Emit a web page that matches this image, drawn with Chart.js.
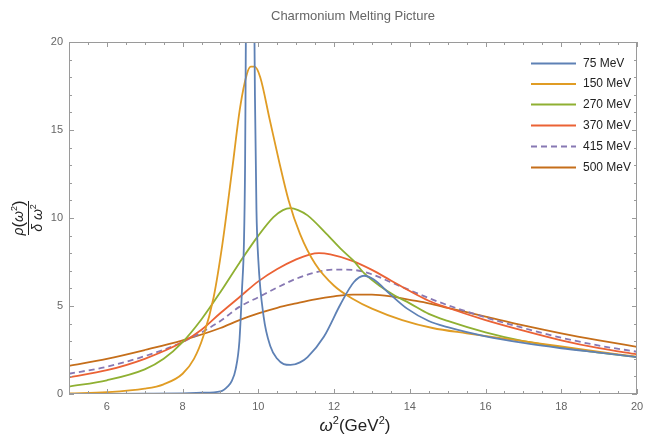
<!DOCTYPE html>
<html>
<head>
<meta charset="utf-8">
<script src="https://cdn.jsdelivr.net/npm/chart.js@4"></script>
<style>
  html, body { margin: 0; padding: 0; background: #ffffff; }
  canvas { display: block; }
</style>
</head>
<body>
<canvas id="chart" width="645" height="436"></canvas>
<script>
// Spectral function rho(w^2)/dw^2 versus w^2 (GeV^2) at several temperatures
const temperatures = ['75 MeV', '150 MeV', '270 MeV', '370 MeV', '415 MeV', '500 MeV'];

const w2_75  = [5, 6, 7, 8, 8.5, 9, 9.2, 9.3, 9.4, 9.5, 9.57, 9.62, 9.65, 9.67, 9.72, 9.78, 9.84, 9.88, 9.91, 9.95, 10.0, 10.14, 10.32, 10.5, 10.67, 10.85, 11.1, 11.3, 11.73, 12.17, 12.52, 12.79, 13.05, 13.49, 13.93, 14.5, 15, 16, 17, 18, 19, 20];
const rho_75 = [0.01, 0.01, 0.02, 0.04, 0.07, 0.15, 0.45, 0.75, 1.4, 3.0, 6.0, 8.6, 13, 20, 38, 48, 38, 25, 17, 10.5, 7.6, 4.4, 2.7, 2.0, 1.7, 1.65, 1.8, 2.1, 3.25, 5.1, 6.35, 6.72, 6.5, 5.65, 4.85, 4.15, 3.8, 3.28, 2.9, 2.6, 2.35, 2.1];

const w2_150  = [5, 6, 7, 7.5, 8, 8.3, 8.55, 8.82, 9.05, 9.3, 9.52, 9.7, 9.8, 9.9, 10.05, 10.3, 10.55, 10.8, 11.1, 11.5, 12, 12.5, 13, 13.8, 14.6, 15.5, 16.5, 17.5, 18.5, 19.5, 20];
const rho_150 = [0.04, 0.1, 0.3, 0.55, 1.15, 2.0, 3.3, 5.5, 8.5, 12.6, 16.3, 18.2, 18.6, 18.6, 18.0, 15.6, 13.2, 11.0, 9.1, 7.4, 6.15, 5.4, 4.85, 4.2, 3.75, 3.45, 3.15, 2.85, 2.55, 2.25, 2.12];

const w2_270  = [5, 6, 7, 7.5, 8, 8.5, 9, 9.5, 10, 10.4, 10.65, 10.85, 11.05, 11.3, 11.8, 12.2, 12.5, 12.8, 13.2, 13.6, 14, 14.5, 15, 16, 17, 18, 19, 20];
const rho_270 = [0.42, 0.78, 1.4, 2.0, 2.95, 4.25, 5.8, 7.45, 9.0, 10.05, 10.45, 10.56, 10.45, 10.15, 9.1, 8.2, 7.6, 6.85, 6.15, 5.6, 5.15, 4.55, 4.15, 3.5, 3.0, 2.65, 2.35, 2.1];

const w2_370  = [5, 6, 7, 8, 8.5, 9, 9.5, 10, 10.5, 11, 11.35, 11.6, 11.9, 12.5, 13, 13.5, 14, 14.5, 15, 16, 17, 18, 19, 20];
const rho_370 = [0.95, 1.35, 2.0, 2.95, 3.65, 4.6, 5.5, 6.4, 7.1, 7.65, 7.92, 8.0, 7.93, 7.55, 7.05, 6.45, 5.85, 5.3, 4.9, 4.2, 3.6, 3.05, 2.6, 2.25];

const w2_415  = [5, 6, 7, 8, 9, 9.5, 10, 10.5, 11, 11.5, 12, 12.5, 13, 13.5, 14, 14.5, 15, 16, 17, 18, 19, 20];
const rho_415 = [1.15, 1.55, 2.15, 2.95, 4.15, 4.95, 5.5, 6.05, 6.55, 6.9, 7.07, 7.05, 6.8, 6.35, 5.9, 5.45, 5.05, 4.35, 3.75, 3.2, 2.75, 2.4];

const w2_500  = [5, 6, 7, 8, 9, 9.5, 10, 10.5, 11, 11.5, 12, 12.5, 13, 13.5, 14, 14.5, 15, 16, 17, 18, 19, 20];
const rho_500 = [1.6, 2.0, 2.5, 3.05, 3.75, 4.2, 4.58, 4.9, 5.15, 5.38, 5.55, 5.65, 5.65, 5.55, 5.35, 5.15, 4.9, 4.4, 3.9, 3.45, 3.05, 2.68];

const xTicks = [6, 8, 10, 12, 14, 16, 18, 20];
const yTicks = [0, 5, 10, 15, 20];

const series = [
  { label: temperatures[0], xs: w2_75,  ys: rho_75,  color: '#5E81B5', dash: [] },
  { label: temperatures[1], xs: w2_150, ys: rho_150, color: '#E09C24', dash: [] },
  { label: temperatures[2], xs: w2_270, ys: rho_270, color: '#8FB032', dash: [] },
  { label: temperatures[3], xs: w2_370, ys: rho_370, color: '#EB6235', dash: [] },
  { label: temperatures[4], xs: w2_415, ys: rho_415, color: '#8778B3', dash: [6, 4] },
  { label: temperatures[5], xs: w2_500, ys: rho_500, color: '#C56E1A', dash: [] }
];

const datasets = series.map(s => ({
  label: s.label,
  data: s.xs.map((x, i) => ({ x: x, y: s.ys[i] })),
  borderColor: s.color,
  backgroundColor: s.color,
  borderWidth: 1.8,
  borderDash: s.dash,
  pointRadius: 0,
  fill: false,
  cubicInterpolationMode: 'monotone'
}));

const FONT = "'Liberation Sans', Arial, sans-serif";

// Draws a row of text pieces (with raised superscripts) centred on (cx, cy)
function drawPieces(ctx, pieces, cx, cy) {
  let total = 0;
  pieces.forEach(p => { ctx.font = p.font; p.w = ctx.measureText(p.t).width; total += p.w; });
  let x = cx - total / 2;
  ctx.textAlign = 'left';
  ctx.textBaseline = 'alphabetic';
  pieces.forEach(p => {
    ctx.font = p.font;
    ctx.fillText(p.t, x, cy + (p.dy || 0));
    x += p.w;
  });
}

const framePlugin = {
  id: 'framePlugin',
  afterDatasetsDraw(chart) {
    const ctx = chart.ctx;
    const a = chart.chartArea;
    const xs = chart.scales.x, ys = chart.scales.y;
    ctx.save();
    ctx.strokeStyle = '#9a9a9a';
    ctx.lineWidth = 1;
    ctx.strokeRect(a.left + 0.5, a.top + 0.5, a.right - a.left - 1, a.bottom - a.top - 1);

    ctx.beginPath();
    // x ticks every 0.5, major on even values
    for (let v = 5; v <= 20.001; v += 0.5) {
      const px = Math.round(xs.getPixelForValue(v)) + 0.5;
      const major = Math.abs(v / 2 - Math.round(v / 2)) < 1e-6;
      const len = major ? 5 : 3;
      ctx.moveTo(px, a.bottom); ctx.lineTo(px, a.bottom - len);
      ctx.moveTo(px, a.top);    ctx.lineTo(px, a.top + len);
    }
    // y ticks every 1, major on multiples of 5
    for (let v = 0; v <= 20; v += 1) {
      const py = Math.round(ys.getPixelForValue(v)) + 0.5;
      const major = v % 5 === 0;
      const len = major ? 5 : 3;
      ctx.moveTo(a.left, py);  ctx.lineTo(a.left + len, py);
      ctx.moveTo(a.right, py); ctx.lineTo(a.right - len, py);
    }
    ctx.stroke();
    ctx.restore();
  },
  afterDraw(chart) {
    const ctx = chart.ctx;
    const a = chart.chartArea;
    const cx = (a.left + a.right) / 2;
    ctx.save();

    // title
    ctx.fillStyle = '#666666';
    ctx.font = '13px ' + FONT;
    ctx.textAlign = 'center';
    ctx.textBaseline = 'middle';
    ctx.fillText('Charmonium Melting Picture', cx, 16);

    // x-axis title: w^2 (GeV^2)
    ctx.fillStyle = '#222222';
    drawPieces(ctx, [
      { t: 'ω', font: 'italic 17px ' + FONT },
      { t: '2', font: '11px ' + FONT, dy: -7 },
      { t: '(GeV', font: '17px ' + FONT },
      { t: '2', font: '11px ' + FONT, dy: -7 },
      { t: ')', font: '17px ' + FONT }
    ], cx + 2, 431);

    // y-axis title: rho(w^2) / (delta w^2), rotated
    ctx.translate(28, 218);
    ctx.rotate(-Math.PI / 2);
    drawPieces(ctx, [
      { t: 'ρ', font: 'italic 14px ' + FONT },
      { t: '(', font: '17px ' + FONT, dy: 1 },
      { t: 'ω', font: 'italic 14px ' + FONT },
      { t: '2', font: '9px ' + FONT, dy: -6 },
      { t: ')', font: '17px ' + FONT, dy: 1 }
    ], 0, -5);
    ctx.strokeStyle = '#222222';
    ctx.lineWidth = 1;
    ctx.beginPath();
    ctx.moveTo(-17, 0.5); ctx.lineTo(17, 0.5);
    ctx.stroke();
    drawPieces(ctx, [
      { t: 'δ ', font: 'italic 14px ' + FONT },
      { t: 'ω', font: 'italic 14px ' + FONT },
      { t: '2', font: '9px ' + FONT, dy: -6 }
    ], 0, 14);
    ctx.restore();

    // legend
    ctx.save();
    const rowY = [63, 83.5, 104, 125, 146, 167];
    chart.data.datasets.forEach((ds, i) => {
      const y = rowY[i] + 0.5;
      ctx.strokeStyle = ds.borderColor;
      ctx.lineWidth = 1.8;
      ctx.setLineDash(ds.borderDash || []);
      ctx.beginPath();
      ctx.moveTo(531, y); ctx.lineTo(576, y);
      ctx.stroke();
      ctx.setLineDash([]);
      ctx.fillStyle = '#222222';
      ctx.font = '12px ' + FONT;
      ctx.textAlign = 'left';
      ctx.textBaseline = 'middle';
      ctx.fillText(ds.label, 583, y);
    });
    ctx.restore();
  }
};

new Chart(document.getElementById('chart'), {
  type: 'line',
  data: { datasets: datasets },
  options: {
    responsive: false,
    animation: false,
    devicePixelRatio: 1,
    layout: { padding: { top: 42, right: 8, bottom: 0, left: 0 } },
    plugins: {
      legend: { display: false },
      title: { display: false },
      tooltip: { enabled: false }
    },
    scales: {
      x: {
        type: 'linear',
        min: 5,
        max: 20,
        afterBuildTicks: s => { s.ticks = xTicks.map(v => ({ value: v })); },
        afterFit: s => { s.height = 42; s.paddingLeft = 0; s.paddingRight = 0; },
        grid: { display: false, drawTicks: false },
        border: { display: false },
        ticks: { color: '#666666', font: { size: 11, family: FONT }, padding: 6, maxRotation: 0 }
      },
      y: {
        type: 'linear',
        min: 0,
        max: 20,
        afterBuildTicks: s => { s.ticks = yTicks.map(v => ({ value: v })); },
        afterFit: s => { s.width = 69; s.paddingTop = 0; s.paddingBottom = 0; },
        grid: { display: false, drawTicks: false },
        border: { display: false },
        ticks: { color: '#666666', font: { size: 11, family: FONT }, padding: 6 }
      }
    }
  },
  plugins: [framePlugin]
});
</script>
</body>
</html>
